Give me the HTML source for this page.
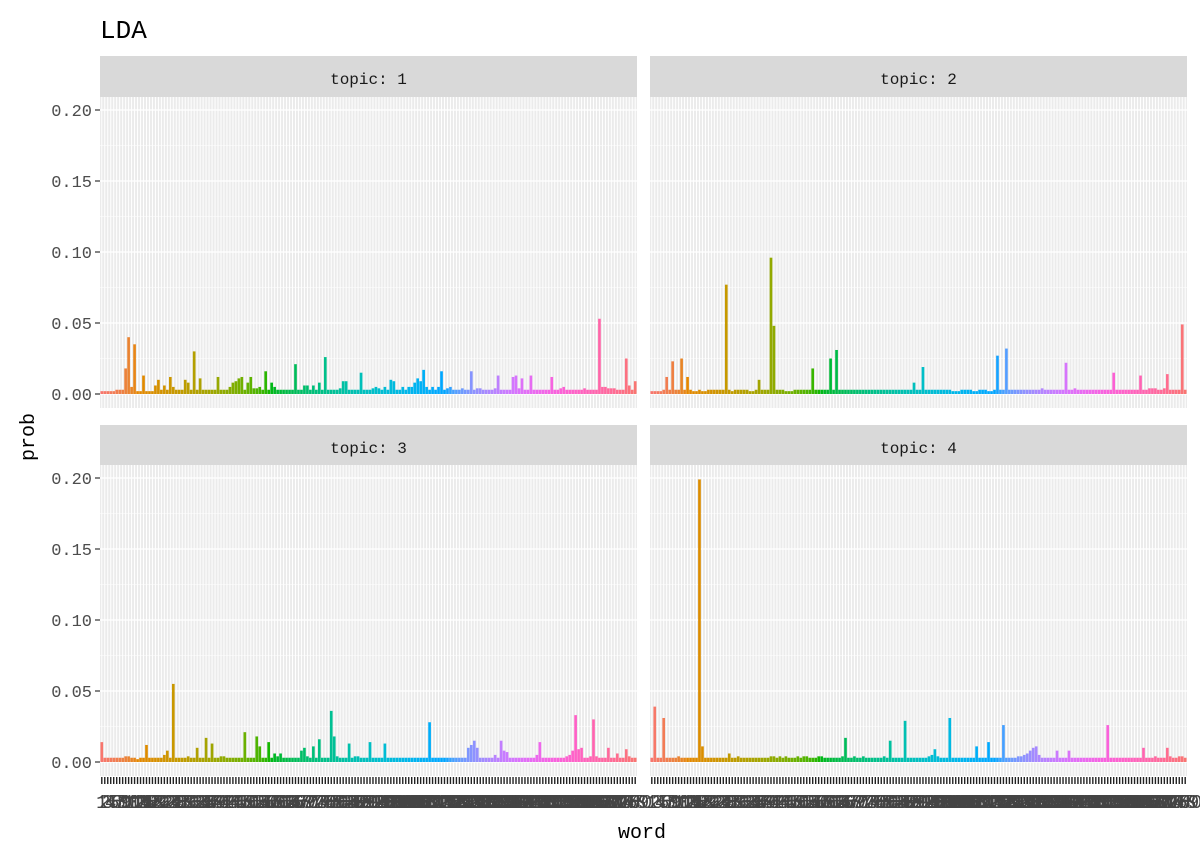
<!DOCTYPE html>
<html><head><meta charset="utf-8">
<style>
html,body{margin:0;padding:0;background:#fff;}
svg{display:block;font-family:"Liberation Mono","Noto Sans CJK JP",monospace;}
</style></head>
<body>
<svg id="chart" width="1200" height="857" xmlns="http://www.w3.org/2000/svg">
<text x="100" y="38" font-size="26" fill="#000">LDA</text>
<text x="642" y="838" font-size="20" text-anchor="middle" fill="#000">word</text>
<text transform="translate(34,437) rotate(-90)" font-size="20" text-anchor="middle" fill="#000">prob</text>
</svg>
<script>
const topicLabels = ["topic: 1","topic: 2","topic: 3","topic: 4"];
const yTicks = [0, 0.05, 0.10, 0.15, 0.20];
const yTickLabels = ["0.00","0.05","0.10","0.15","0.20"];
const topic1 = [
.002,.002,.002,.002,.002,.003,.003,.003,.018,.040,.005,.035,.002,.002,.013,.002,.002,.002,.006,.010,
.003,.006,.003,.012,.005,.003,.003,.003,.010,.008,.003,.030,.003,.011,.003,.003,.003,.003,.003,.012,
.003,.003,.003,.005,.008,.009,.011,.012,.003,.008,.012,.004,.004,.005,.003,.016,.003,.008,.005,.003,
.003,.003,.003,.003,.003,.021,.003,.003,.006,.006,.003,.006,.003,.008,.003,.026,.003,.003,.003,.003,
.004,.009,.009,.003,.003,.003,.003,.015,.003,.003,.003,.004,.005,.004,.003,.005,.003,.010,.009,.003,
.003,.005,.003,.005,.005,.008,.011,.009,.017,.005,.003,.005,.003,.005,.016,.003,.004,.005,.003,.003,
.003,.004,.003,.003,.016,.003,.004,.004,.003,.003,.003,.003,.004,.013,.003,.003,.003,.003,.012,.013,
.004,.011,.003,.003,.013,.003,.003,.003,.003,.003,.003,.012,.003,.003,.004,.005,.003,.003,.003,.003,
.003,.003,.004,.003,.003,.003,.003,.053,.005,.005,.004,.004,.004,.003,.003,.003,.025,.006,.003,.009];
const topic2 = [
.002,.002,.002,.002,.003,.012,.003,.023,.003,.003,.025,.003,.012,.003,.002,.002,.003,.002,.002,.003,
.003,.003,.003,.003,.003,.077,.003,.002,.003,.003,.003,.003,.003,.002,.002,.003,.010,.003,.003,.003,
.096,.048,.003,.003,.003,.002,.002,.002,.003,.003,.003,.003,.003,.003,.018,.003,.003,.003,.003,.003,
.025,.003,.031,.003,.003,.003,.003,.003,.003,.003,.003,.003,.003,.003,.003,.003,.003,.003,.003,.003,
.003,.003,.003,.003,.003,.003,.003,.003,.008,.003,.003,.019,.003,.003,.003,.003,.003,.003,.003,.003,
.003,.002,.002,.002,.003,.003,.003,.003,.002,.002,.003,.003,.003,.002,.002,.003,.027,.003,.003,.032,
.003,.003,.003,.003,.003,.003,.003,.003,.003,.003,.003,.004,.003,.003,.003,.003,.003,.003,.003,.022,
.003,.003,.004,.003,.003,.003,.003,.003,.003,.003,.003,.003,.003,.003,.003,.015,.003,.003,.003,.003,
.003,.003,.003,.003,.013,.003,.003,.004,.004,.004,.003,.003,.004,.014,.003,.003,.003,.003,.049,.003];
const topic3 = [
.014,.003,.003,.003,.003,.003,.003,.003,.004,.004,.003,.003,.002,.003,.003,.012,.003,.003,.003,.003,
.003,.005,.008,.003,.055,.003,.003,.003,.003,.004,.003,.003,.010,.003,.003,.017,.003,.013,.003,.003,
.004,.004,.003,.003,.003,.003,.003,.003,.021,.003,.003,.003,.018,.011,.003,.003,.014,.003,.006,.004,
.006,.003,.003,.003,.003,.003,.003,.008,.010,.004,.003,.011,.003,.016,.003,.003,.003,.036,.018,.004,
.003,.003,.003,.013,.003,.004,.004,.003,.003,.003,.014,.003,.003,.003,.003,.013,.003,.003,.003,.003,
.003,.003,.003,.003,.003,.003,.003,.003,.003,.003,.028,.003,.003,.003,.003,.003,.003,.003,.003,.003,
.003,.003,.003,.010,.012,.015,.010,.003,.003,.003,.003,.003,.005,.003,.015,.008,.007,.003,.003,.003,
.003,.003,.003,.003,.003,.003,.005,.014,.003,.003,.003,.003,.003,.003,.003,.003,.004,.005,.008,.033,
.009,.010,.003,.003,.004,.030,.004,.003,.003,.003,.010,.003,.003,.006,.003,.003,.009,.004,.003,.003];
const topic4 = [
.003,.039,.003,.003,.031,.003,.003,.003,.003,.004,.003,.003,.003,.003,.003,.003,.199,.011,.003,.003,
.003,.003,.003,.003,.003,.003,.006,.003,.003,.004,.003,.003,.003,.003,.003,.003,.003,.003,.003,.003,
.004,.004,.003,.004,.003,.004,.003,.003,.003,.004,.003,.004,.004,.003,.003,.003,.004,.004,.003,.003,
.003,.003,.003,.003,.004,.017,.003,.003,.004,.003,.003,.004,.003,.003,.003,.003,.003,.003,.004,.003,
.015,.003,.003,.003,.003,.029,.003,.003,.003,.003,.003,.003,.003,.004,.005,.009,.004,.003,.003,.003,
.031,.003,.003,.003,.003,.003,.003,.003,.003,.011,.003,.003,.003,.014,.003,.003,.003,.003,.026,.003,
.003,.003,.003,.004,.004,.005,.006,.008,.010,.011,.005,.003,.003,.003,.003,.003,.008,.003,.003,.003,
.008,.003,.003,.003,.003,.003,.003,.003,.003,.003,.003,.003,.003,.026,.003,.003,.003,.003,.003,.003,
.003,.003,.003,.003,.003,.010,.003,.003,.003,.004,.003,.003,.003,.010,.004,.003,.003,.004,.004,.003];
const topics = [topic1, topic2, topic3, topic4];

const NS = "http://www.w3.org/2000/svg";
const svg = document.getElementById("chart");
function mk(tag, attrs, parent){
  const e = document.createElementNS(NS, tag);
  for (const k in attrs) e.setAttribute(k, attrs[k]);
  (parent||svg).appendChild(e);
  return e;
}
function hcl(h, c, l){
  const hr = h*Math.PI/180;
  const L=l, U=c*Math.cos(hr), V=c*Math.sin(hr);
  const Xn=95.047,Yn=100,Zn=108.883;
  const un=4*Xn/(Xn+15*Yn+3*Zn), vn=9*Yn/(Xn+15*Yn+3*Zn);
  const Y = L>8 ? Yn*Math.pow((L+16)/116,3) : Yn*L/903.3;
  const u = U/(13*L)+un, v = V/(13*L)+vn;
  const X = 9*Y*u/(4*v), Z = -X/3 - 5*Y + 3*Y/v;
  const x=X/100,y=Y/100,z=Z/100;
  let r= 3.2406*x-1.5372*y-0.4986*z, g=-0.9689*x+1.8758*y+0.0415*z, b=0.0557*x-0.2040*y+1.0570*z;
  const gam = t => { t = t<=0.0031308 ? 12.92*t : 1.055*Math.pow(t,1/2.4)-0.055; return Math.round(Math.max(0,Math.min(1,t))*255); };
  return "rgb("+gam(r)+","+gam(g)+","+gam(b)+")";
}
const N = topic1.length;
const panels = [
  {x:100, y:97, strip:56},
  {x:650, y:97, strip:56},
  {x:100, y:465, strip:425},
  {x:650, y:465, strip:425}
];
const PW = 537, PH = 311;
const yTopPx = 13, yScale = 284/0.2;
const step = PW/(N-1+1.2);
const xPos = i => (i+0.6)*step;
topics.forEach((vals, p) => {
  const P = panels[p];
  const g = mk("g", {transform:"translate("+P.x+","+P.y+")"});
  
  
  const y0 = yTopPx + 0.2*yScale;
  const yS = v => y0 - v*yScale;
  mk("rect", {x:0,y:0,width:PW,height:PH,fill:"#EBEBEB"}, g);
  for (let k=0;k<yTicks.length-1;k++){
    const v=(yTicks[k]+yTicks[k+1])/2;
    mk("line",{x1:0,x2:PW,y1:yS(v),y2:yS(v),stroke:"#fff","stroke-width":0.6},g);
  }
  yTicks.forEach(v=>mk("line",{x1:0,x2:PW,y1:yS(v),y2:yS(v),stroke:"#fff","stroke-width":1.2},g));
  for (let i=0;i<N;i++) mk("line",{x1:xPos(i),x2:xPos(i),y1:0,y2:PH,stroke:"#fff","stroke-width":1},g);
  for (let i=0;i<N;i++){
    const bw = step*0.9;
    const r = mk("rect",{x:xPos(i)-bw/2,y:yS(vals[i]),width:bw,height:vals[i]*yScale,fill:hcl(15+360*i/N,100,65)},g);
    
    
  }
  const s = mk("rect",{x:P.x,y:P.strip,width:PW,height:P.y-P.strip,fill:"#D9D9D9"});
  
  
  const st = mk("text",{x:P.x+PW/2,y:P.strip+28,"font-size":16,"text-anchor":"middle",fill:"#1A1A1A"});
  st.textContent = topicLabels[p];
  
  
  if (P.x===100){
    yTicks.forEach((v,k)=>{
      mk("line",{x1:P.x-5,x2:P.x,y1:P.y+yS(v),y2:P.y+yS(v),stroke:"#333","stroke-width":1.2});
      const t = mk("text",{x:P.x-8,y:P.y+yS(v)+6,"font-size":17,"text-anchor":"end",fill:"#4D4D4D"});
      t.textContent = yTickLabels[k];
      
      
    });
  }
  if (P.y===465){
    for (let i=0;i<N;i++){
      const X = P.x+xPos(i);
      mk("line",{x1:X,x2:X,y1:P.y+PH+1,y2:P.y+PH+8,stroke:"#222","stroke-width":1.4});
      const t = mk("text",{x:X,y:808,"font-size":19,"text-anchor":"middle",fill:"#444"});
      t.textContent = String(i+1);
      
      
    }
  }
});
</script>
</body></html>
